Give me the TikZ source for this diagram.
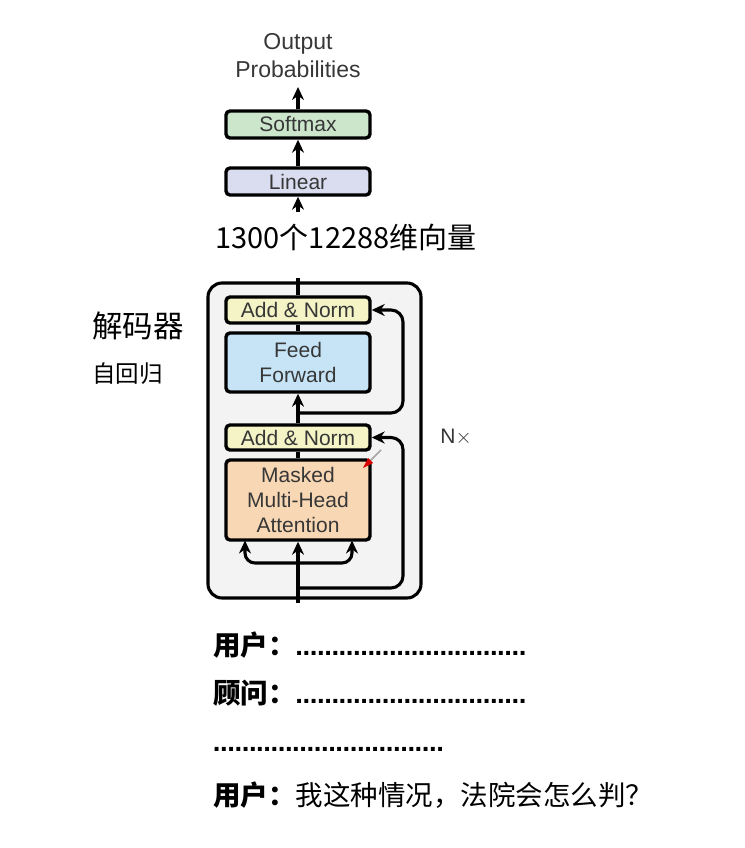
\documentclass[tikz,border=0pt]{standalone}
\usepackage{fontspec}
\setmainfont{Liberation Sans}
\newfontfamily\cjk{Noto Sans CJK SC}
\usetikzlibrary{arrows.meta,calc}
\definecolor{txt}{RGB}{55,55,55}
\definecolor{smx}{RGB}{204,230,204}
\definecolor{lin}{RGB}{218,220,240}
\definecolor{anorm}{RGB}{244,244,198}
\definecolor{ffc}{RGB}{198,228,246}
\definecolor{mhac}{RGB}{248,215,180}
\definecolor{outerc}{RGB}{243,243,243}
\newcount\dotcnt
\newcommand\mydots[1]{\dotcnt=0 \loop\ifnum\dotcnt<#1 \makebox[7.2pt]{\bfseries .}\advance\dotcnt by 1 \repeat}
\tikzset{
  blk/.style={draw=black, line width=3.4pt, rounded corners=4pt, minimum width=144pt,
    inner sep=0pt, text=txt, font=\fontsize{21}{25}\selectfont, align=center},
  conn/.style={line width=3.1pt, draw=black},
  arr/.style={conn, -{Stealth[length=13pt,width=12pt]}},
  lbl/.style={inner sep=0pt, text=txt},
  cjkt/.style={inner sep=0pt, anchor=west, text=black}
}
\begin{document}
\begin{tikzpicture}[x=1pt,y=-1pt]
\useasboundingbox (0,0) rectangle (744,848);
% outer decoder box
\node[draw=black, line width=3.1pt, fill=outerc, rounded corners=14pt, minimum width=213pt,
  minimum height=315pt, inner sep=0pt] (outer) at (314.5,440.5) {};
% top stack
\node[lbl, align=center, font=\fontsize{23}{28}\selectfont] (out) at (298,56) {Output\\Probabilities};
\node[blk, fill=smx, minimum height=27pt] (softmax) at (298,124.5) {Softmax};
\node[blk, fill=lin, minimum height=27pt] (linear) at (298,181.5) {Linear};
\node[inner sep=0pt, font=\cjk\fontsize{29}{32}\selectfont] (vec) at (346,237) {1300个12288维向量};
\coordinate (vin) at (298,212);
\draw[arr] (softmax.north) -- (298,87) coordinate (outb);
\draw[arr] (linear.north) -- (softmax.south);
\draw[arr] (vin) -- (linear.south);
% decoder blocks
\node[blk, fill=anorm, minimum height=26pt] (an2) at (298,310) {Add \& Norm};
\node[blk, fill=ffc, minimum height=59pt] (ff) at (298,362.5) {Feed\\Forward};
\node[blk, fill=anorm, minimum height=25pt] (an1) at (298,437.5) {Add \& Norm};
\node[blk, fill=mhac, minimum height=80pt] (mha) at (298,500) {Masked\\Multi-Head\\Attention};
\coordinate (ctop) at (298,278);
\coordinate (cbot) at (298,603);
\coordinate (r2) at (298,413);
\coordinate (r1) at (298,588);
\coordinate (br) at (298,563);
\draw[conn] (ctop) -- (an2.north);
\draw[conn] (an2.south) -- (ff.north);
\draw[arr] (an1.north) -- (ff.south);
\draw[conn] (an1.south) -- (mha.north);
\draw[arr] (cbot) -- (mha.south);
\draw[arr, rounded corners=12pt] (r2) -- (403,413) -- (403,310) -- (an2.east);
\draw[arr, rounded corners=12pt] (r1) -- (403,588) -- (403,437.5) -- (an1.east);
\draw[arr, rounded corners=10pt] (br) -| (245,540.5);
\draw[arr, rounded corners=10pt] (br) -| (352,540.5);
% small stylus mark
\draw[line width=1.6pt, draw=gray!70] (369,462) -- (381,450);
\fill[red!85!black] (363,468) -- (368,458) -- (373,463) -- cycle;
\node[lbl, font=\fontsize{21}{24}\selectfont] (nx) at (456,437) {N$\times$};
% left labels
\node[cjkt, font=\cjk\fontsize{30.5}{32}\selectfont] (dec) at (92,326) {解码器};
\node[cjkt, font=\cjk\fontsize{23.5}{26}\selectfont] (ar) at (92,374) {自回归};
% dialogue
\node[cjkt, font=\fontsize{27.5}{30}\selectfont] (l1) at (213,645) {{\cjk\bfseries 用户：}\mydots{32}};
\node[cjkt, font=\fontsize{27.5}{30}\selectfont] (l2) at (213,693) {{\cjk\bfseries 顾问：}\mydots{32}};
\node[cjkt, font=\fontsize{27.5}{30}\selectfont] (l3) at (213,749) {\mydots{32}};
\node[cjkt, font=\fontsize{27.5}{30}\selectfont] (l4) at (213,795) {{\cjk\bfseries 用户：}{\cjk 我这种情况，法院会怎么判？}};
\end{tikzpicture}
\end{document}
